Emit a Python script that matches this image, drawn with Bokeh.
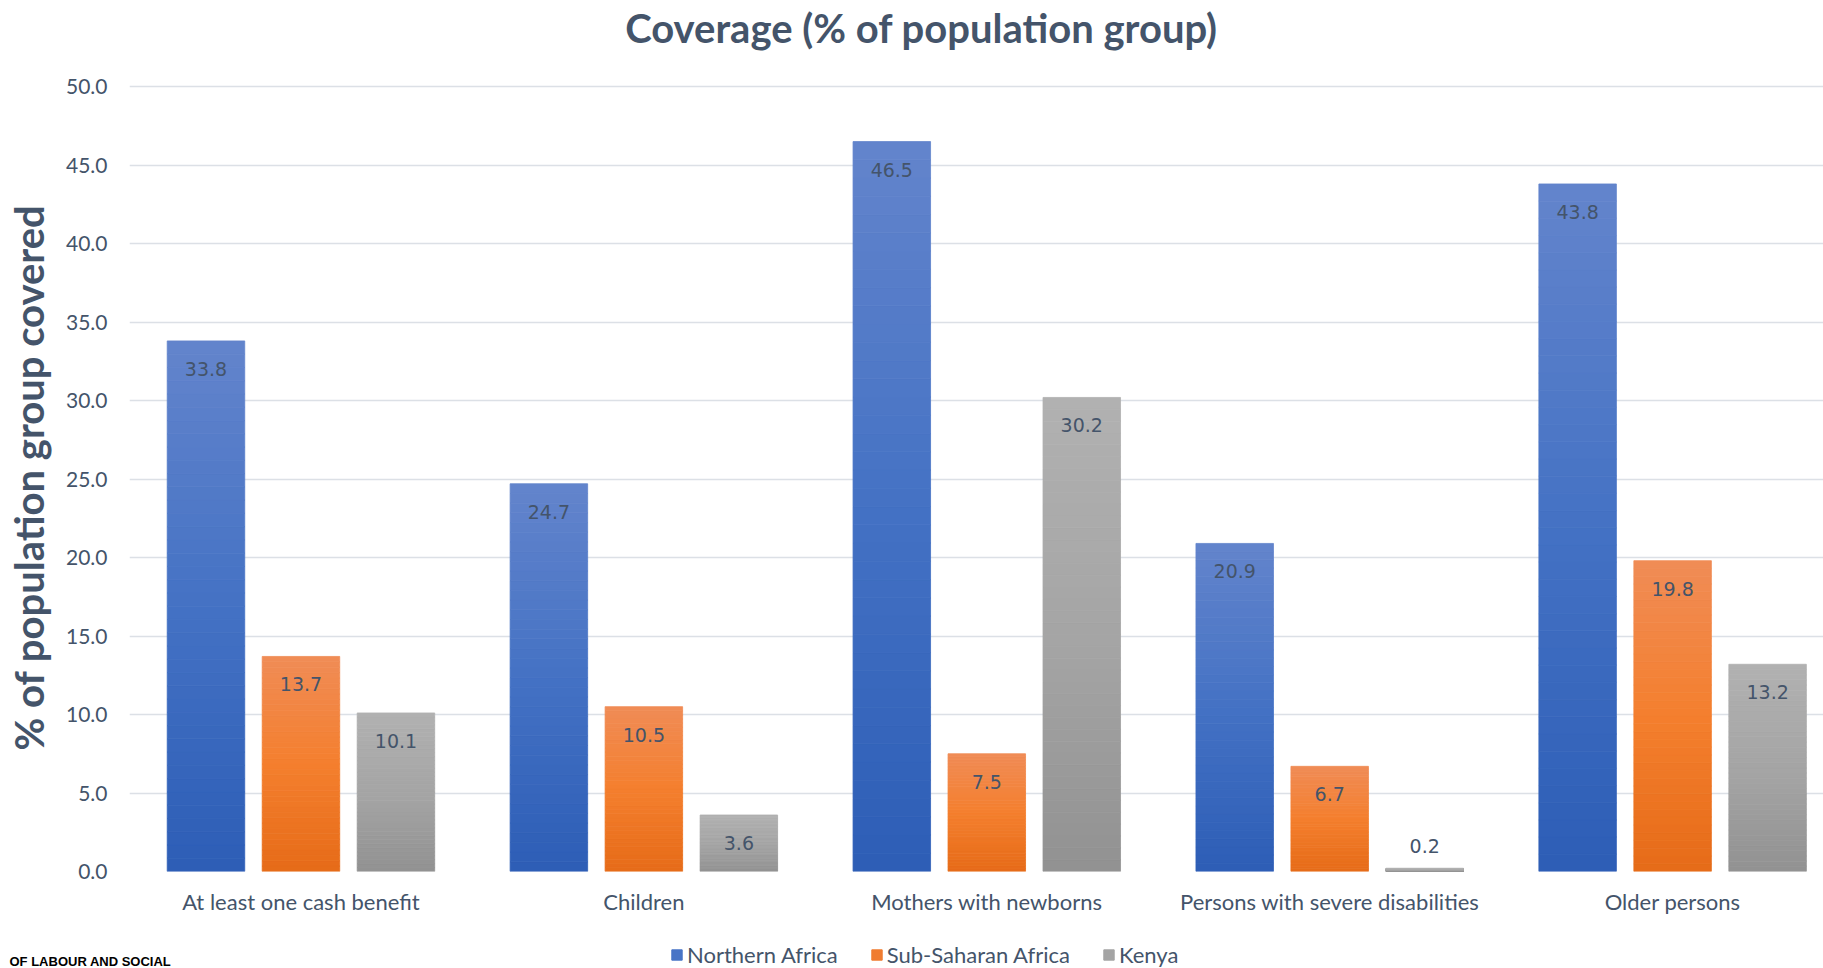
import numpy as np
from bokeh.plotting import figure
from bokeh.layouts import column
from bokeh.models import (ColumnDataSource, Range1d, FixedTicker, NumeralTickFormatter,
                          Legend, LegendItem, Label)
from bokeh.core.properties import value
from bokeh.embed import file_html
from bokeh.resources import INLINE

# ---------------- data ----------------
categories = ["At least one cash benefit", "Children", "Mothers with newborns",
              "Persons with severe disabilities", "Older persons"]
series_names = ["Northern Africa", "Sub-Saharan Africa", "Kenya"]
northern_africa = [33.8, 24.7, 46.5, 20.9, 43.8]
sub_saharan_africa = [13.7, 10.5, 7.5, 6.7, 19.8]
kenya = [10.1, 3.6, 30.2, 0.2, 13.2]
y_ticks = [0, 5, 10, 15, 20, 25, 30, 35, 40, 45, 50]
title_text = "Coverage (% of population group)"
y_title = "% of population group covered"
footer_text = "OF LABOUR AND SOCIAL"

series_values = [northern_africa, sub_saharan_africa, kenya]

# ---------------- style ----------------
TEXT = "#44546A"
W = 1823
LEFT = 129
HEAD_H, FOOT_H = 60, 49
MAIN_H = 968 - HEAD_H - FOOT_H
gradients = [  # bottom, middle, top
    ["#2D5DB6", "#4472C4", "#6384CC"],
    ["#E66B18", "#F47F2E", "#F08C56"],
    ["#929292", "#A5A5A5", "#B1B1B1"],
]
legend_colors = ["#4874C6", "#F07C30", "#A4A4A4"]
offsets = [-0.277, 0.0, 0.277]
bar_w = 0.226
n_slices = 40


def hex2rgb(h):
    h = h.lstrip("#")
    return np.array([int(h[i:i + 2], 16) for i in (0, 2, 4)], dtype=float)


def grad_color(stops, f):
    b, m, t = (hex2rgb(s) for s in stops)
    if f < 0.5:
        c = b + (m - b) * (f / 0.5)
    else:
        c = m + (t - m) * ((f - 0.5) / 0.5)
    c = np.clip(np.round(c), 0, 255).astype(int)
    return "#%02x%02x%02x" % tuple(c)


def blank_figure(height, yspan):
    # frame is aligned with the main chart's frame (page x from LEFT to W)
    f = figure(width=W, height=height, x_range=Range1d(LEFT, W), y_range=Range1d(0, yspan),
               output_backend="svg", toolbar_location=None,
               x_axis_type=None, y_axis_type=None,
               min_border_left=LEFT, min_border_right=0,
               min_border_top=0, min_border_bottom=0)
    f.outline_line_color = None
    f.xgrid.visible = False
    f.ygrid.visible = False
    f.background_fill_color = "white"
    f.border_fill_color = "white"
    return f


# ---------------- header (title) ----------------
head = blank_figure(HEAD_H, HEAD_H)
head.add_layout(Label(x=921, y=HEAD_H - 27, text=title_text,
                      text_align="center", text_baseline="middle",
                      text_font="Lato", text_font_style="bold", text_font_size="40px",
                      text_color=TEXT))

# ---------------- main chart ----------------
p = figure(width=W, height=MAIN_H,
           x_range=Range1d(0, 4.94), y_range=Range1d(0, 50.2),
           output_backend="svg", toolbar_location=None,
           min_border_left=LEFT, min_border_right=0,
           min_border_top=23, min_border_bottom=MAIN_H - 23 - 788)
p.outline_line_color = None
p.background_fill_color = "white"
p.border_fill_color = "white"

centers = np.arange(len(categories)) + 0.5

for s, (name, vals) in enumerate(zip(series_names, series_values)):
    xs, bottoms, tops, colors = [], [], [], []
    for i, v in enumerate(vals):
        for j in range(n_slices):
            xs.append(centers[i] + offsets[s])
            bottoms.append(v * j / n_slices)
            tops.append(v * (j + 1) / n_slices)
            colors.append(grad_color(gradients[s], (j + 0.5) / n_slices))
    src = ColumnDataSource(dict(x=xs, bottom=bottoms, top=tops, color=colors))
    p.vbar(x="x", bottom="bottom", top="top", width=bar_w, source=src,
           fill_color="color", line_color="color", line_width=0.8)

    # data labels
    lab_src = ColumnDataSource(dict(
        x=[centers[i] + offsets[s] for i in range(len(vals))],
        y=vals,
        text=["%.1f" % v for v in vals],
        yoff=[28 if v * 15.7 > 40 else -22 for v in vals],
    ))
    p.text(x="x", y="y", text="text", y_offset="yoff", source=lab_src,
           text_align="center", text_baseline="middle",
           text_font=value("DejaVu Sans"), text_font_size="19px",
           text_color=TEXT)

# grid
p.xgrid.visible = False
p.ygrid.ticker = FixedTicker(ticks=y_ticks)
p.ygrid.grid_line_color = "#DCE0E6"
p.ygrid.grid_line_width = 1.5

# y axis
p.yaxis.ticker = FixedTicker(ticks=y_ticks)
p.yaxis.formatter = NumeralTickFormatter(format="0.0")
p.yaxis.major_label_text_font = "Lato"
p.yaxis.major_label_text_font_size = "21px"
p.yaxis.major_label_text_color = TEXT
p.yaxis.major_tick_line_color = None
p.yaxis.minor_tick_line_color = None
p.yaxis.major_tick_out = 0
p.yaxis.major_tick_in = 0
p.yaxis.minor_tick_out = 0
p.yaxis.axis_line_color = None
p.yaxis.major_label_standoff = 22
p.yaxis.axis_label = y_title
p.yaxis.axis_label_text_font = "Lato"
p.yaxis.axis_label_text_font_style = "bold"
p.yaxis.axis_label_text_font_size = "40px"
p.yaxis.axis_label_text_color = TEXT
p.yaxis.axis_label_standoff = 10

# x axis
p.xaxis.ticker = FixedTicker(ticks=list(centers))
p.xaxis.major_label_overrides = {float(c): cat for c, cat in zip(centers, categories)}
p.xaxis.major_label_text_font = "Lato"
p.xaxis.major_label_text_font_size = "22px"
p.xaxis.major_label_text_color = TEXT
p.xaxis.major_tick_line_color = None
p.xaxis.minor_tick_line_color = None
p.xaxis.major_tick_out = 0
p.xaxis.major_tick_in = 0
p.xaxis.minor_tick_out = 0
p.xaxis.axis_line_color = None
p.xaxis.major_label_standoff = 16

# ---------------- footer (legend + cropped source note) ----------------
FOOT_FRAME = 32
foot = blank_figure(FOOT_H, FOOT_FRAME)
items = []
for name, col in zip(series_names, legend_colors):
    # legend swatch only: a renderer with no visible mark
    r = foot.vbar(x=[np.nan], top=[np.nan], width=1, fill_color=col, line_color=col)
    items.append(LegendItem(label=name, renderers=[r], index=0))
legend = Legend(items=items, orientation="horizontal", location=(670 - LEFT, 0),
                padding=0, margin=0, spacing=32, label_standoff=4,
                glyph_width=13, glyph_height=13,
                label_text_font="Lato", label_text_font_size="22px",
                label_text_color=TEXT, border_line_color=None,
                background_fill_alpha=0)
foot.add_layout(legend)
foot.add_layout(Label(x=9, y=6.5, text=footer_text, text_align="left",
                      text_baseline="alphabetic", text_font="Liberation Sans",
                      text_font_style="bold", text_font_size="13px", text_color="black"),
                "above")

layout = column(head, p, foot, spacing=0)
open("out.html", "w").write(file_html(layout, INLINE))
